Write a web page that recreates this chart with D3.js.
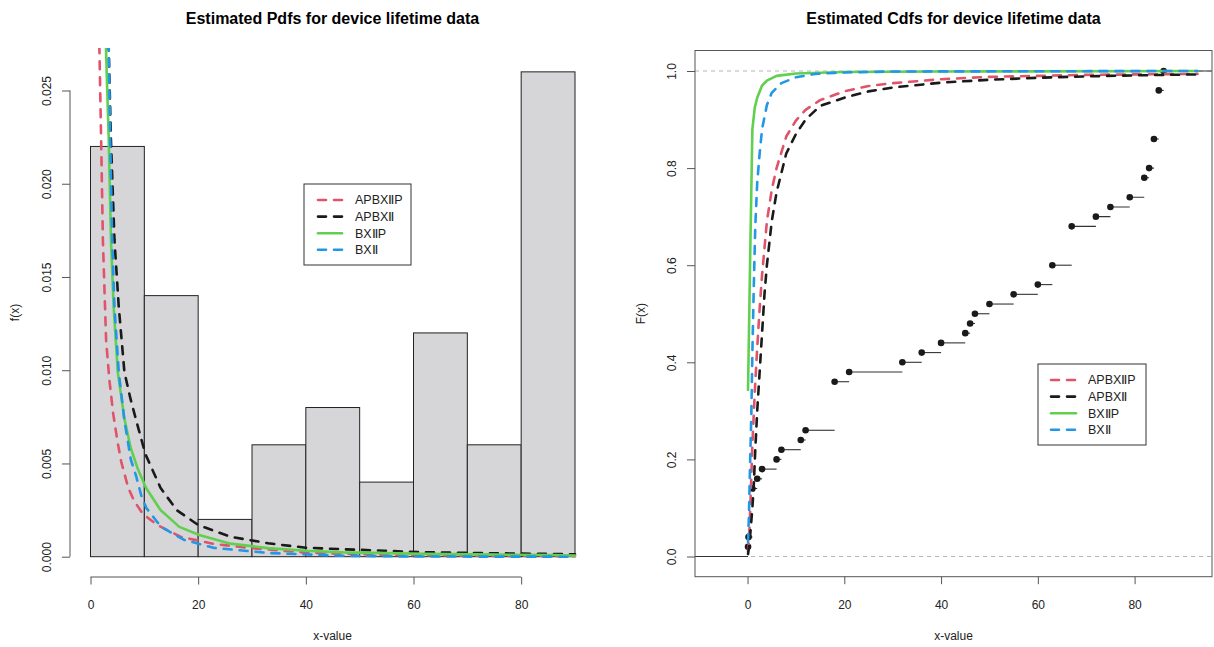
<!DOCTYPE html>
<html><head><meta charset="utf-8">
<script src="https://cdn.jsdelivr.net/npm/d3@7"></script>
<style>
body{margin:0;background:#fff;}
svg{display:block;font-family:"Liberation Sans",Arial,Helvetica,sans-serif;}
</style></head>
<body><svg id="c" width="1214" height="647"></svg>
<script>
// ---------- DATA ----------
const seriesNames = ["APBX\u2161P", "APBX\u2161", "BX\u2161P", "BX\u2161"];
const seriesColors = ["#DF536B", "#1A1A1A", "#61D04F", "#2297E6"];
const seriesDashed = [true, true, false, true];

// histogram (density scale)
const histBreaks = [0, 10, 20, 30, 40, 50, 60, 70, 80, 90];
const histDensity = [0.022, 0.014, 0.002, 0.006, 0.008, 0.004, 0.012, 0.006, 0.026];

// estimated pdfs
const pdfX_APBXIIP = [1.5, 1.67, 1.98, 2.3, 2.9, 3.5, 4.2, 5.0, 5.7, 7.0, 8.1, 9.7, 12.4, 16.7, 23, 29.5, 40, 54.5, 70, 90];
const pdfY_APBXIIP = [0.030, 0.027, 0.0223, 0.017, 0.0116, 0.0095, 0.0077, 0.0062, 0.0051, 0.0037, 0.0030, 0.0023, 0.0017, 0.00107, 0.00068, 0.00047, 0.00022, 0.0001, 0.00005, 0.00003];
const pdfX_APBXII = [3.2, 3.4, 3.8, 4.45, 5.25, 6.3, 7.4, 8.5, 10.2, 13, 16, 20, 26, 33, 40, 47, 54.5, 61.6, 76, 90];
const pdfY_APBXII = [0.031, 0.027, 0.0223, 0.017, 0.0134, 0.0099, 0.0085, 0.0073, 0.0055, 0.0037, 0.0025, 0.0017, 0.00107, 0.00072, 0.00048, 0.0004, 0.00032, 0.00024, 0.00018, 0.00013];
const pdfX_BXIIP = [2.7, 2.9, 3.4, 3.8, 4.3, 5.07, 6.3, 7.5, 8.8, 10.3, 13, 16.5, 20.2, 26, 33, 40, 47, 62, 76, 86, 90];
const pdfY_BXIIP = [0.030, 0.027, 0.0223, 0.017, 0.0134, 0.0099, 0.0074, 0.0058, 0.0047, 0.0037, 0.0025, 0.0016, 0.00116, 0.0007, 0.00046, 0.00032, 0.00023, 0.00015, 0.00011, 0.00009, 0.00006];
const pdfX_BXII = [3.2, 3.4, 3.66, 4.03, 4.45, 5.25, 6.3, 7.5, 8.5, 9.5, 10.4, 13.1, 17.4, 23, 33, 47, 60, 90];
const pdfY_BXII = [0.031, 0.027, 0.0223, 0.017, 0.0134, 0.0099, 0.0073, 0.0052, 0.0043, 0.0032, 0.0026, 0.0016, 0.0009, 0.00047, 0.0002, 0.00005, 0.00001, 0.0];

// estimated cdfs
const cdfX_APBXIIP = [0.1, 0.3, 0.6, 0.8, 1, 1.5, 2, 2.5, 3, 4, 5, 6, 8, 10, 12, 15, 20, 25, 30, 40, 50, 60, 70, 80, 93];
const cdfY_APBXIIP = [0.01, 0.03, 0.11, 0.17, 0.23, 0.34, 0.43, 0.51, 0.58, 0.69, 0.755, 0.80, 0.865, 0.898, 0.92, 0.94, 0.958, 0.969, 0.975, 0.983, 0.988, 0.99, 0.992, 0.993, 0.994];
const cdfX_APBXII = [0.1, 0.3, 0.6, 1, 1.3, 1.6, 2, 2.5, 3, 3.5, 4, 5, 6, 8, 10, 12, 15, 20, 25, 30, 40, 50, 60, 70, 80, 93];
const cdfY_APBXII = [0.005, 0.02, 0.05, 0.10, 0.15, 0.22, 0.30, 0.38, 0.46, 0.54, 0.60, 0.69, 0.75, 0.83, 0.87, 0.90, 0.928, 0.945, 0.958, 0.966, 0.976, 0.982, 0.986, 0.989, 0.991, 0.993];
const cdfX_BXIIP = [0.1, 0.55, 1, 1.5, 2, 3, 4, 6, 10, 20, 40, 93];
const cdfY_BXIIP = [0.343, 0.62, 0.88, 0.925, 0.945, 0.97, 0.98, 0.99, 0.995, 0.998, 0.999, 1.0];
const cdfX_BXII = [0.1, 0.3, 0.5, 0.8, 1, 1.3, 1.6, 2, 2.5, 3, 4, 5, 7, 10, 14, 20, 30, 93];
const cdfY_BXII = [0.03, 0.09, 0.18, 0.30, 0.42, 0.56, 0.68, 0.77, 0.83, 0.88, 0.93, 0.955, 0.975, 0.987, 0.994, 0.997, 0.999, 1.0];

// empirical cdf knots
const ecdfX = [0.1, 0.2, 1, 2, 3, 6, 7, 11, 12, 18, 21, 32, 36, 40, 45, 46, 47, 50, 55, 60, 63, 67, 72, 75, 79, 82, 83, 84, 85, 86];
const ecdfY = [0.02, 0.04, 0.14, 0.16, 0.18, 0.20, 0.22, 0.24, 0.26, 0.36, 0.38, 0.40, 0.42, 0.44, 0.46, 0.48, 0.50, 0.52, 0.54, 0.56, 0.60, 0.68, 0.70, 0.72, 0.74, 0.78, 0.80, 0.86, 0.96, 1.00];

// ticks
const xTicksL = [0, 20, 40, 60, 80];
const yTicksL = [0, 0.005, 0.010, 0.015, 0.020, 0.025];
const xTicksR = [0, 20, 40, 60, 80];
const yTicksR = [0, 0.2, 0.4, 0.6, 0.8, 1.0];

const pdfSeries = [[pdfX_APBXIIP, pdfY_APBXIIP], [pdfX_APBXII, pdfY_APBXII], [pdfX_BXIIP, pdfY_BXIIP], [pdfX_BXII, pdfY_BXII]];
const cdfSeries = [[cdfX_APBXIIP, cdfY_APBXIIP], [cdfX_APBXII, cdfY_APBXII], [cdfX_BXIIP, cdfY_BXIIP], [cdfX_BXII, cdfY_BXII]];

// ---------- DRAW ----------
const svg = d3.select("#c");
const axisCol = "#555";
const textCol = "#222";
const LW = 2.6;

function styleCurve(sel, i) {
  sel.attr("fill", "none").attr("stroke", seriesColors[i]).attr("stroke-width", LW)
     .attr("stroke-linecap", "round").attr("stroke-linejoin", "round")
     .attr("stroke-dasharray", seriesDashed[i] ? "8,8" : null);
}

function legend(g, x0, y0, w, h, lx1, lx2, tx, ry, dy) {
  g.append("rect").attr("x", x0).attr("y", y0).attr("width", w).attr("height", h)
    .attr("fill", "#fff").attr("stroke", "#333").attr("stroke-width", 1);
  seriesNames.forEach((n, i) => {
    const y = ry + i * dy;
    g.append("line").attr("x1", lx1).attr("x2", lx2).attr("y1", y).attr("y2", y).call(styleCurve, i);
    g.append("text").attr("x", tx).attr("y", y).attr("dy", "0.35em").attr("font-size", 12.5)
      .attr("fill", textCol).text(n);
  });
}

// ===== Left panel =====
const L = {left: 70, right: 595, top: 48, bottom: 577};
const xL = d3.scaleLinear().domain([0, 90]).range([90.5, 575]);
const yL = d3.scaleLinear().domain([0, 0.025]).range([556.7, 90.5]);

svg.append("defs").append("clipPath").attr("id", "clipL").append("rect")
  .attr("x", L.left).attr("y", L.top).attr("width", L.right - L.left).attr("height", L.bottom - L.top);

const gL = svg.append("g");
gL.selectAll("rect.bar").data(histDensity).join("rect").attr("class", "bar")
  .attr("x", (d, i) => xL(histBreaks[i])).attr("width", (d, i) => xL(histBreaks[i + 1]) - xL(histBreaks[i]))
  .attr("y", d => yL(d)).attr("height", d => yL(0) - yL(d))
  .attr("fill", "#D6D6D8").attr("stroke", "#222").attr("stroke-width", 1);

const lineL = d3.line().x(d => xL(d[0])).y(d => yL(d[1]));
const gLc = gL.append("g").attr("clip-path", "url(#clipL)");
pdfSeries.forEach((s, i) => {
  const pts = s[0].map((x, j) => [x, s[1][j]]);
  gLc.append("path").attr("d", lineL(pts)).call(styleCurve, i);
});

// axes
const axB = gL.append("g").attr("transform", `translate(0,${L.bottom})`)
  .call(d3.axisBottom(xL).tickValues(xTicksL).tickSize(7.5).tickPadding(16).tickSizeOuter(0).tickFormat(d3.format("d")));
const axLf = gL.append("g").attr("transform", `translate(${L.left},0)`)
  .call(d3.axisLeft(yL).tickValues(yTicksL).tickSize(8).tickSizeOuter(0).tickFormat(d3.format(".3f")));
[axB, axLf].forEach(a => {
  a.select(".domain").attr("stroke", axisCol).attr("stroke-width", 1);
  a.selectAll(".tick line").attr("stroke", axisCol);
  a.selectAll("text").attr("font-size", 12).attr("fill", textCol).attr("font-family", "Liberation Sans, Arial, sans-serif");
});
axB.select(".domain").attr("d", `M${xL(xTicksL[0])},0H${xL(xTicksL[xTicksL.length - 1])}`);
axLf.select(".domain").attr("d", `M0,${yL(yTicksL[0])}V${yL(yTicksL[yTicksL.length - 1])}`);
axLf.selectAll(".tick text").attr("x", null).attr("dy", null)
  .attr("transform", "translate(-23,0) rotate(-90)").attr("text-anchor", "middle").attr("dominant-baseline", "central");

gL.append("text").attr("x", (L.left + L.right) / 2).attr("y", 24).attr("text-anchor", "middle")
  .attr("font-weight", "bold").attr("font-size", 16).attr("fill", "#000").text("Estimated Pdfs for device lifetime data");
gL.append("text").attr("x", (L.left + L.right) / 2).attr("y", 640).attr("text-anchor", "middle")
  .attr("font-size", 12).attr("fill", textCol).text("x-value");
gL.append("text").attr("transform", `translate(15,${(L.top + L.bottom) / 2}) rotate(-90)`).attr("text-anchor", "middle")
  .attr("dominant-baseline", "central").attr("font-size", 12).attr("fill", textCol).text("f(x)");

legend(gL, 304, 184, 107, 81, 318, 342, 355, 200, 16.6);

// ===== Right panel =====
const R = {left: 695, right: 1212, top: 50.5, bottom: 576.7};
const xR = d3.scaleLinear().domain([-10.86, 96.0]).range([R.left, R.right]);
const yR = d3.scaleLinear().domain([0, 1]).range([556.5, 71]);

svg.select("defs").append("clipPath").attr("id", "clipR").append("rect")
  .attr("x", R.left).attr("y", R.top).attr("width", R.right - R.left).attr("height", R.bottom - R.top);

const gR = svg.append("g");
const gRc = gR.append("g").attr("clip-path", "url(#clipR)");
// reference lines at 0 and 1
[0, 1].forEach(v => gRc.append("line").attr("x1", R.left).attr("x2", R.right).attr("y1", yR(v)).attr("y2", yR(v))
  .attr("stroke", "#B3B3B3").attr("stroke-width", 1).attr("stroke-dasharray", "4,4"));

// ecdf steps
const segStarts = [xR.invert(R.left)].concat(ecdfX);
const segEnds = ecdfX.concat([xR.invert(R.right)]);
const segY = [0].concat(ecdfY);
gRc.selectAll("line.step").data(segY).join("line").attr("class", "step")
  .attr("x1", (d, i) => xR(segStarts[i])).attr("x2", (d, i) => xR(segEnds[i]))
  .attr("y1", d => yR(d)).attr("y2", d => yR(d))
  .attr("stroke", "#333").attr("stroke-width", 1.1);
gRc.selectAll("circle.pt").data(ecdfX).join("circle").attr("class", "pt")
  .attr("cx", d => xR(d)).attr("cy", (d, i) => yR(ecdfY[i])).attr("r", 3.3).attr("fill", "#1A1A1A");

const lineR = d3.line().x(d => xR(d[0])).y(d => yR(d[1]));
cdfSeries.forEach((s, i) => {
  const pts = s[0].map((x, j) => [x, s[1][j]]);
  gRc.append("path").attr("d", lineR(pts)).call(styleCurve, i);
});

gR.append("rect").attr("x", R.left).attr("y", R.top).attr("width", R.right - R.left).attr("height", R.bottom - R.top)
  .attr("fill", "none").attr("stroke", axisCol).attr("stroke-width", 1);

const axRB = gR.append("g").attr("transform", `translate(0,${R.bottom})`)
  .call(d3.axisBottom(xR).tickValues(xTicksR).tickSize(7.5).tickPadding(16).tickSizeOuter(0).tickFormat(d3.format("d")));
const axRL = gR.append("g").attr("transform", `translate(${R.left},0)`)
  .call(d3.axisLeft(yR).tickValues(yTicksR).tickSize(8).tickSizeOuter(0).tickFormat(d3.format(".1f")));
[axRB, axRL].forEach(a => {
  a.select(".domain").remove();
  a.selectAll(".tick line").attr("stroke", axisCol);
  a.selectAll("text").attr("font-size", 12).attr("fill", textCol).attr("font-family", "Liberation Sans, Arial, sans-serif");
});
axRL.selectAll(".tick text").attr("x", null).attr("dy", null)
  .attr("transform", "translate(-23,0) rotate(-90)").attr("text-anchor", "middle").attr("dominant-baseline", "central");

gR.append("text").attr("x", (R.left + R.right) / 2).attr("y", 24).attr("text-anchor", "middle")
  .attr("font-weight", "bold").attr("font-size", 16).attr("fill", "#000").text("Estimated Cdfs for device lifetime data");
gR.append("text").attr("x", (R.left + R.right) / 2).attr("y", 640).attr("text-anchor", "middle")
  .attr("font-size", 12).attr("fill", textCol).text("x-value");
gR.append("text").attr("transform", `translate(641,${(R.top + R.bottom) / 2}) rotate(-90)`).attr("text-anchor", "middle")
  .attr("dominant-baseline", "central").attr("font-size", 12).attr("fill", textCol).text("F(x)");

legend(gR, 1038, 364, 108, 81, 1051, 1076, 1088, 380, 16.6);
</script></body></html>
